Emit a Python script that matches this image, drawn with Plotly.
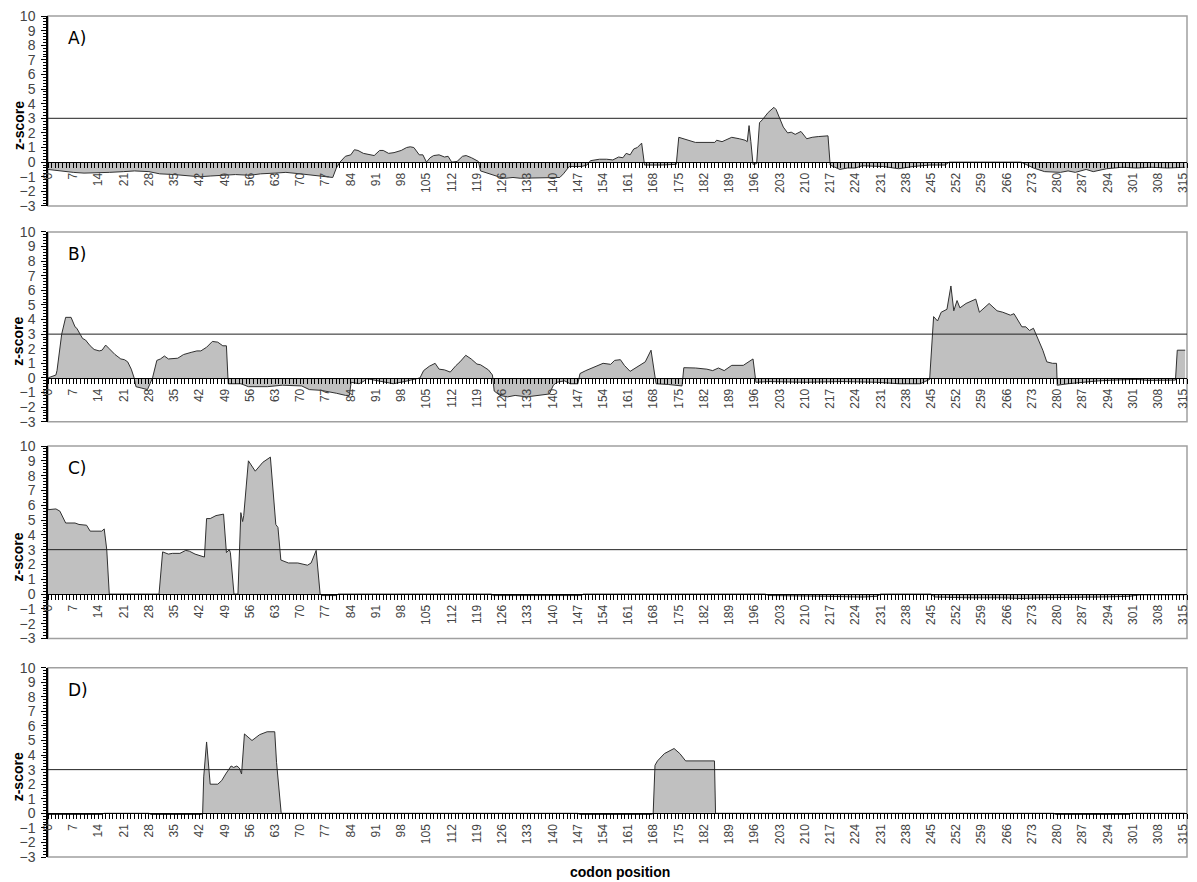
import plotly.graph_objects as go

# ---------------- data (codon position, z-score breakpoints) ----------------
a_x = [0, 3, 7, 10, 14, 17, 21, 24, 28, 31, 35, 38, 42, 45, 49, 52, 56, 59, 63, 66, 70, 73, 77, 79, 80, 81,
       82.5, 84, 85, 86, 87.5, 89, 90.5, 92, 93, 94.5, 96, 98, 99.5, 100.5, 101.5, 103, 104, 105, 106, 107,
       108.5, 110, 111, 112, 113.5, 115, 116, 117.5, 119.4, 120, 122.5, 125, 127, 129, 131, 135, 139, 142,
       143, 144.6, 148, 149.5, 150.5, 153, 155, 156.7, 158.3, 159.5, 160.4, 161.5, 162.5, 163.5, 164.7,
       165.5, 170, 174.3, 175, 176.5, 179.6, 185, 185.5, 187, 189.7, 191.8, 193.4, 194, 194.5, 195, 195.6,
       196.6, 197.4, 198.2, 199.8, 201.4, 202, 203, 204, 205.2, 206.2, 207.3, 208.9, 210.5, 212, 213.7,
       216.4, 217, 219.7, 221.8, 224, 225.9, 231.8, 236, 240, 244.6, 248.9, 250, 270, 273.4, 276.5, 280.9,
       283, 285, 288, 290, 293.7, 298, 302, 306, 310.7, 315.5]
a_y = [-0.5, -0.6, -0.7, -0.75, -0.75, -0.7, -0.65, -0.6, -0.65, -0.8, -0.85, -0.9, -1.0, -0.95, -0.9, -0.85,
       -0.9, -0.8, -0.75, -0.7, -0.8, -0.9, -1.0, -1.05, -0.4, 0.0,
       0.4, 0.5, 0.85, 0.8, 0.6, 0.5, 0.45, 0.8, 0.8, 0.6, 0.65, 0.8, 1.0, 1.05, 1.0, 0.5, 0.5, 0.0, 0.3, 0.45,
       0.5, 0.35, 0.4, 0.0, 0.05, 0.4, 0.45, 0.3, 0.05, -0.6, -0.8, -1.0, -1.1, -1.05, -1.1, -1.1, -1.1, -1.05,
       -0.8, -0.3, -0.3, -0.2, 0.1, 0.2, 0.2, 0.15, 0.35, 0.3, 0.6, 0.5, 0.9, 1.0, 1.3,
       -0.2, -0.2, -0.15, 1.7, 1.6, 1.35, 1.35, 1.5, 1.4, 1.7, 1.6, 1.5, 1.4, 2.5, 1.4, -0.15,
       -0.1, 2.7, 2.9, 3.4, 3.75, 3.6, 3.0, 2.4, 2.0, 2.05, 1.9, 2.1, 1.6, 1.7, 1.75,
       1.8, -0.2, -0.5, -0.4, -0.4, -0.25, -0.3, -0.45, -0.3, -0.2, -0.2, 0.0, 0.0, -0.4, -0.65, -0.7,
       -0.6, -0.7, -0.5, -0.65, -0.45, -0.35, -0.4, -0.35, -0.4, -0.35]

b_x = [0, 2.2, 2.5, 3.8, 4.9, 6.4, 7.5, 8.0, 8.9, 9.6, 10.4, 11.7, 12.8, 14.2, 15, 16, 17, 18.6, 20.2, 21.2,
       22.1, 23.1, 23.9, 24.4, 26, 27.6, 28.3, 29, 30.2, 31.2, 32.3, 33.4, 36, 37.6, 39.7, 41.3, 42.4, 44,
       45.6, 47.1, 48.5, 49.5, 50, 53.5, 55.6, 60.9, 65, 70.4, 72.5, 75.7, 80, 82.6, 83.6, 84.1, 86.3, 87.8,
       88.4, 91.5, 95.8, 98.9, 102.6, 103.2, 104.2, 105.8, 107.4, 108.5, 110, 111.6, 113.2, 114.3, 115.9,
       117.4, 119, 120, 122.2, 123.3, 123.8, 125.4, 127.5, 129.6, 132.8, 137, 139.1, 140.2, 141.2, 143.3,
       144.9, 147, 147.6, 149.2, 150.8, 154, 156.1, 157.2, 158.8, 159.9, 161.5, 163.6, 165.7, 167.3,
       168.7, 172.1, 175.9, 176.4, 179.6, 182.8, 184.4, 186, 187.6, 189.7, 192.9, 195.6, 196.4, 200, 210,
       220, 230, 236, 242, 244.6, 245.7, 246.8, 247.8, 249.4, 250.5, 251.3, 252.2, 253, 254.7, 257.4,
       258.4, 261.1, 263.3, 264.9, 267, 268, 269.1, 270.2, 271.3, 272.3, 273.4, 274.4, 276, 277.1, 278.7,
       279.8, 280, 283, 287.3, 291.5, 296, 300, 302, 305, 312.8, 313.3, 315.5]
b_y = [0.0, 0.2, 0.5, 3.0, 4.15, 4.15, 3.5, 3.4, 3.0, 2.7, 2.6, 2.2, 1.95, 1.85, 1.9, 2.25, 2.0, 1.6, 1.3, 1.25,
       1.1, 0.6, 0.0, -0.6, -0.7, -0.8, -0.4, 0.0, 1.2, 1.3, 1.5, 1.3, 1.35, 1.6, 1.75, 1.85, 1.85, 2.1,
       2.5, 2.45, 2.2, 2.2, -0.4, -0.4, -0.6, -0.6, -0.5, -0.55, -0.8, -0.85, -1.05, -1.2, -1.2, -0.3, -0.4, -0.2,
       -0.05, -0.2, -0.4, -0.25, -0.05, 0.0, 0.5, 0.8, 1.0, 0.6, 0.55, 0.4, 0.85, 1.1, 1.55,
       1.3, 0.95, 0.9, 0.55, 0.2, -0.9, -1.2, -1.3, -1.2, -1.3, -1.2, -1.1, -0.5, -0.3, -0.2,
       -0.4, -0.4, 0.3, 0.5, 0.65, 1.0, 0.93, 1.2, 1.25, 0.86, 0.45, 0.75, 1.1, 1.9,
       -0.4, -0.45, -0.55, 0.7, 0.68, 0.6, 0.5, 0.68, 0.5, 0.86, 0.86, 1.3, -0.3, -0.25, -0.3,
       -0.25, -0.3, -0.4, -0.4, -0.1, 4.2, 3.9, 4.5, 4.7, 6.3, 4.6, 5.3, 4.8, 5.1, 5.4,
       4.5, 5.1, 4.6, 4.5, 4.3, 4.4, 3.95, 3.5, 3.5, 3.25, 3.4, 2.8, 1.9, 1.1, 1.0,
       1.0, -0.5, -0.4, -0.3, -0.2, -0.15, -0.15, -0.1, -0.17, -0.15, 1.9, 1.9]

c_x = [0, 2.2, 3.3, 4.9, 7.5, 8.6, 10.7, 11.7, 14.9, 15.6, 16.3, 17, 30.8, 31.8, 33.4, 34.5, 36.6, 38.2, 39.2,
       40.8, 43.4, 44, 45, 46.6, 48.7, 49.5, 50.3, 50.6, 51.6, 52.7, 53.5, 54, 54.3, 55.6, 57.5, 59.6, 61.7,
       63.2, 63.8, 64.6, 66.7, 69.3, 72, 73, 74.4, 75.5, 76, 80, 80.5, 123, 123.5, 148, 148.5, 199, 200, 212,
       216, 226, 230, 231, 245, 246, 255, 265, 270, 275, 285, 292, 300, 303, 310, 315.5]
c_y = [5.7, 5.75, 5.6, 4.8, 4.8, 4.7, 4.65, 4.25, 4.25, 4.4, 3.0, 0.0, 0.0, 2.85, 2.7, 2.75, 2.75, 2.95, 2.9,
       2.7, 2.5, 5.1, 5.1, 5.3, 5.4, 2.8, 3.0, 2.8, 0.0, 0.0, 5.5, 4.9, 5.3, 9.0, 8.3, 8.9, 9.25,
       4.7, 4.5, 2.3, 2.1, 2.1, 1.95, 2.1, 2.95, 0.0, -0.1, -0.1, 0.0, 0.0, -0.1, -0.1, 0.0, 0.0, -0.1, -0.1,
       -0.15, -0.2, -0.15, 0.0, 0.0, -0.2, -0.25, -0.25, -0.3, -0.25, -0.25, -0.2, -0.15, -0.05, -0.05, -0.05]

d_x = [0, 15, 15.5, 28, 28.5, 42.5, 42.9, 43.2, 44, 44.5, 45, 47.1, 48.2, 49.3, 50.8, 51.5, 52.4, 53.1, 53.7,
       54.5, 56.6, 58.7, 59.8, 60.8, 62.9, 63.4, 64.7, 147, 147.5, 167.5, 167.9, 168.4, 169.1, 171, 173.7,
       175.3, 176.9, 184.9, 185.2, 279, 279.5, 300, 300.5, 315.5]
d_y = [-0.08, -0.08, 0.0, 0.0, -0.08, -0.08, 0.0, 2.5, 4.9, 3.1, 2.0, 2.0, 2.25, 2.7, 3.25, 3.15, 3.25, 3.1, 2.7,
       5.45, 5.0, 5.4, 5.5, 5.6, 5.6, 3.5, 0.0, 0.0, -0.08, -0.08, 0.0, 3.3, 3.6, 4.1, 4.45,
       4.1, 3.6, 3.6, 0.0, 0.0, -0.08, -0.08, 0.0, 0.0]

panel_labels = ["A)", "B)", "C)", "D)"]
threshold = 3
x_tickvals = list(range(0, 316, 7))
x_ticktext = [str(v) for v in x_tickvals]
y_tickvals = list(range(-3, 11))

# ---------------- figure ----------------
series = [(a_x, a_y), (b_x, b_y), (c_x, c_y), (d_x, d_y)]
domains = [(0.7741, 1.0), (0.5176, 0.7432), (0.2598, 0.4887), (0.0, 0.2251)]

fig = go.Figure()
layout = {}
shapes = []
annotations = []
axis_font = dict(family="Liberation Sans, Arial, sans-serif", color="#444444")

for i, ((xs, ys), (d0, d1), lab) in enumerate(zip(series, domains, panel_labels)):
    sfx = "" if i == 0 else str(i + 1)
    fig.add_trace(go.Scatter(
        x=xs, y=ys, xaxis="x" + sfx, yaxis="y" + sfx, mode="lines",
        fill="tozeroy", fillcolor="#c0c0c0",
        line=dict(color="#303030", width=1),
        hoverinfo="skip", showlegend=False))
    pos = d0 + (3.0 / 13.0) * (d1 - d0)
    layout["xaxis" + sfx] = dict(
        domain=[0, 1], anchor="free", position=pos, range=[0, 316], automargin=False,
        tickmode="array", tickvals=x_tickvals, ticktext=x_ticktext, tickangle=-90,
        tickfont=dict(size=12, **axis_font), ticklabeloverflow="allow",
        ticks="outside", ticklen=5, tickcolor="#000000", tickwidth=1,
        minor=dict(dtick=1, tick0=0, ticks="outside", ticklen=5, tickcolor="#000000", tickwidth=1),
        showline=True, linecolor="#000000", linewidth=1,
        showgrid=False, zeroline=False, fixedrange=True)
    layout["yaxis" + sfx] = dict(
        domain=[d0, d1], anchor="x" + sfx, range=[-3, 10], automargin=False,
        tickmode="array", tickvals=y_tickvals,
        tickfont=dict(size=14, **axis_font), ticklabeloverflow="allow",
        ticks="outside", ticklen=5, tickcolor="#000000", ticklabelstandoff=3,
        minor=dict(dtick=0.2, tick0=0, ticks="outside", ticklen=3, tickcolor="#000000"),
        showline=True, linecolor="#000000", linewidth=1.5,
        showgrid=False, zeroline=False, fixedrange=True)
    # plot frame
    shapes.append(dict(type="rect", xref="x" + sfx + " domain", yref="y" + sfx + " domain",
                       x0=0, x1=1, y0=0, y1=1, line=dict(color="#a0a0a0", width=1.5), layer="below"))
    # threshold line
    shapes.append(dict(type="line", xref="x" + sfx + " domain", yref="y" + sfx,
                       x0=0, x1=1, y0=threshold, y1=threshold,
                       line=dict(color="#202020", width=1), layer="above"))
    annotations.append(dict(text=lab, xref="x" + sfx, yref="y" + sfx, x=5.0, y=8.5,
                            xanchor="left", yanchor="middle", showarrow=False,
                            font=dict(family="DejaVu Sans", size=17, color="#000000")))
    annotations.append(dict(text="<b>z-score</b>", xref="paper", yref="y" + sfx,
                            x=-0.026, y=2.5, xanchor="center", yanchor="middle",
                            textangle=-90, showarrow=False,
                            font=dict(family="Liberation Sans, Arial", size=14, color="#000000")))

annotations.append(dict(text="<b>codon position</b>", xref="paper", yref="paper",
                        x=0.502, y=-0.0178, xanchor="center", yanchor="middle", showarrow=False,
                        font=dict(family="Liberation Sans, Arial", size=14, color="#000000")))

# The page body adds an 8 px offset, so the figure is made 8 px smaller and margins compensated.
fig.update_layout(
    width=1189, height=874,
    margin=dict(l=40, r=10, t=8, b=25, autoexpand=False),
    paper_bgcolor="white", plot_bgcolor="white",
    shapes=shapes, annotations=annotations, showlegend=False,
    **layout)

fig.write_html("out.html")
